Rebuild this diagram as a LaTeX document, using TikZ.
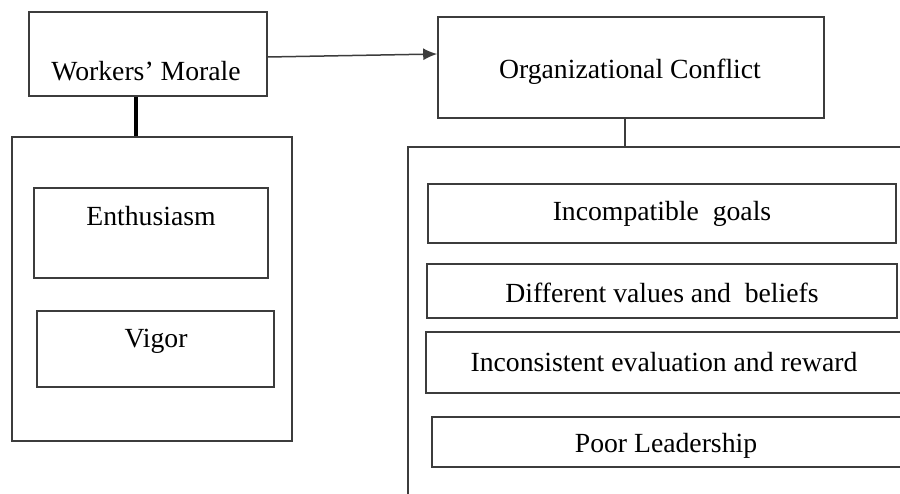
\documentclass[tikz,border=0pt]{standalone}
\usepackage{fontspec}
\setmainfont{Liberation Serif}
\usetikzlibrary{arrows.meta}

\definecolor{edge}{HTML}{3C3C3C}

\begin{document}
\begin{tikzpicture}[x=1pt,y=-1pt,
  box/.style={draw=edge,line width=1.6pt,inner sep=0pt,rectangle},
  txt/.style={font=\fontsize{27.7}{32}\selectfont,inner sep=0pt}]
\useasboundingbox (0,0) rectangle (900,494);
\clip (0,0) rectangle (900,494);
\fill[white] (0,0) rectangle (900,494);

% left side
\node [box,minimum width=238pt,minimum height=84pt] (morale) at (148,54) {};
\node [txt] (moraletxt) at (146,71) {Workers’ Morale};
\node [box,minimum width=280pt,minimum height=304pt] (left) at (152,289) {};
\node [box,minimum width=234pt,minimum height=90pt] (enth) at (151,233) {};
\node [txt] (enthtxt) at (151,216) {Enthusiasm};
\node [box,minimum width=237pt,minimum height=76pt] (vigor) at (155.5,349) {};
\node [txt] (vigortxt) at (156,341) {Vigor};

% right side
\node [box,minimum width=386pt,minimum height=101pt] (org) at (631,67.5) {};
\node [txt] (orgtxt) at (630,72) {Organizational Conflict};
\node [box,minimum width=540pt,minimum height=380pt] (right) at (678,337) {};
\node [box,minimum width=468pt,minimum height=59pt] (goals) at (662,213.5) {};
\node [txt] (goalstxt) at (662,214) {Incompatible\ \ goals};
\node [box,minimum width=470pt,minimum height=54pt] (values) at (662,291) {};
\node [txt] (valuestxt) at (662,293) {Different values and\ \ beliefs};
\node [box,minimum width=476pt,minimum height=61pt] (eval) at (664,362.5) {};
\node [txt] (evaltxt) at (664,362) {Inconsistent evaluation and reward};
\node [box,minimum width=470pt,minimum height=50pt] (lead) at (667,442) {};
\node [txt] (leadtxt) at (666,446) {Poor Leadership};

% connectors
\draw [edge,line width=1.5pt,-{Latex[length=14pt,width=12pt]}]
  ([yshift=-3pt]morale.east) -- ([yshift=13.5pt]org.west);
\draw [black,line width=4pt] ([xshift=-12pt]morale.south) -- ([xshift=-12pt]morale.south |- left.north);
\draw [edge,line width=1.6pt] ([xshift=-6pt]org.south) -- ([xshift=-6pt]org.south |- right.north);
\end{tikzpicture}
\end{document}
